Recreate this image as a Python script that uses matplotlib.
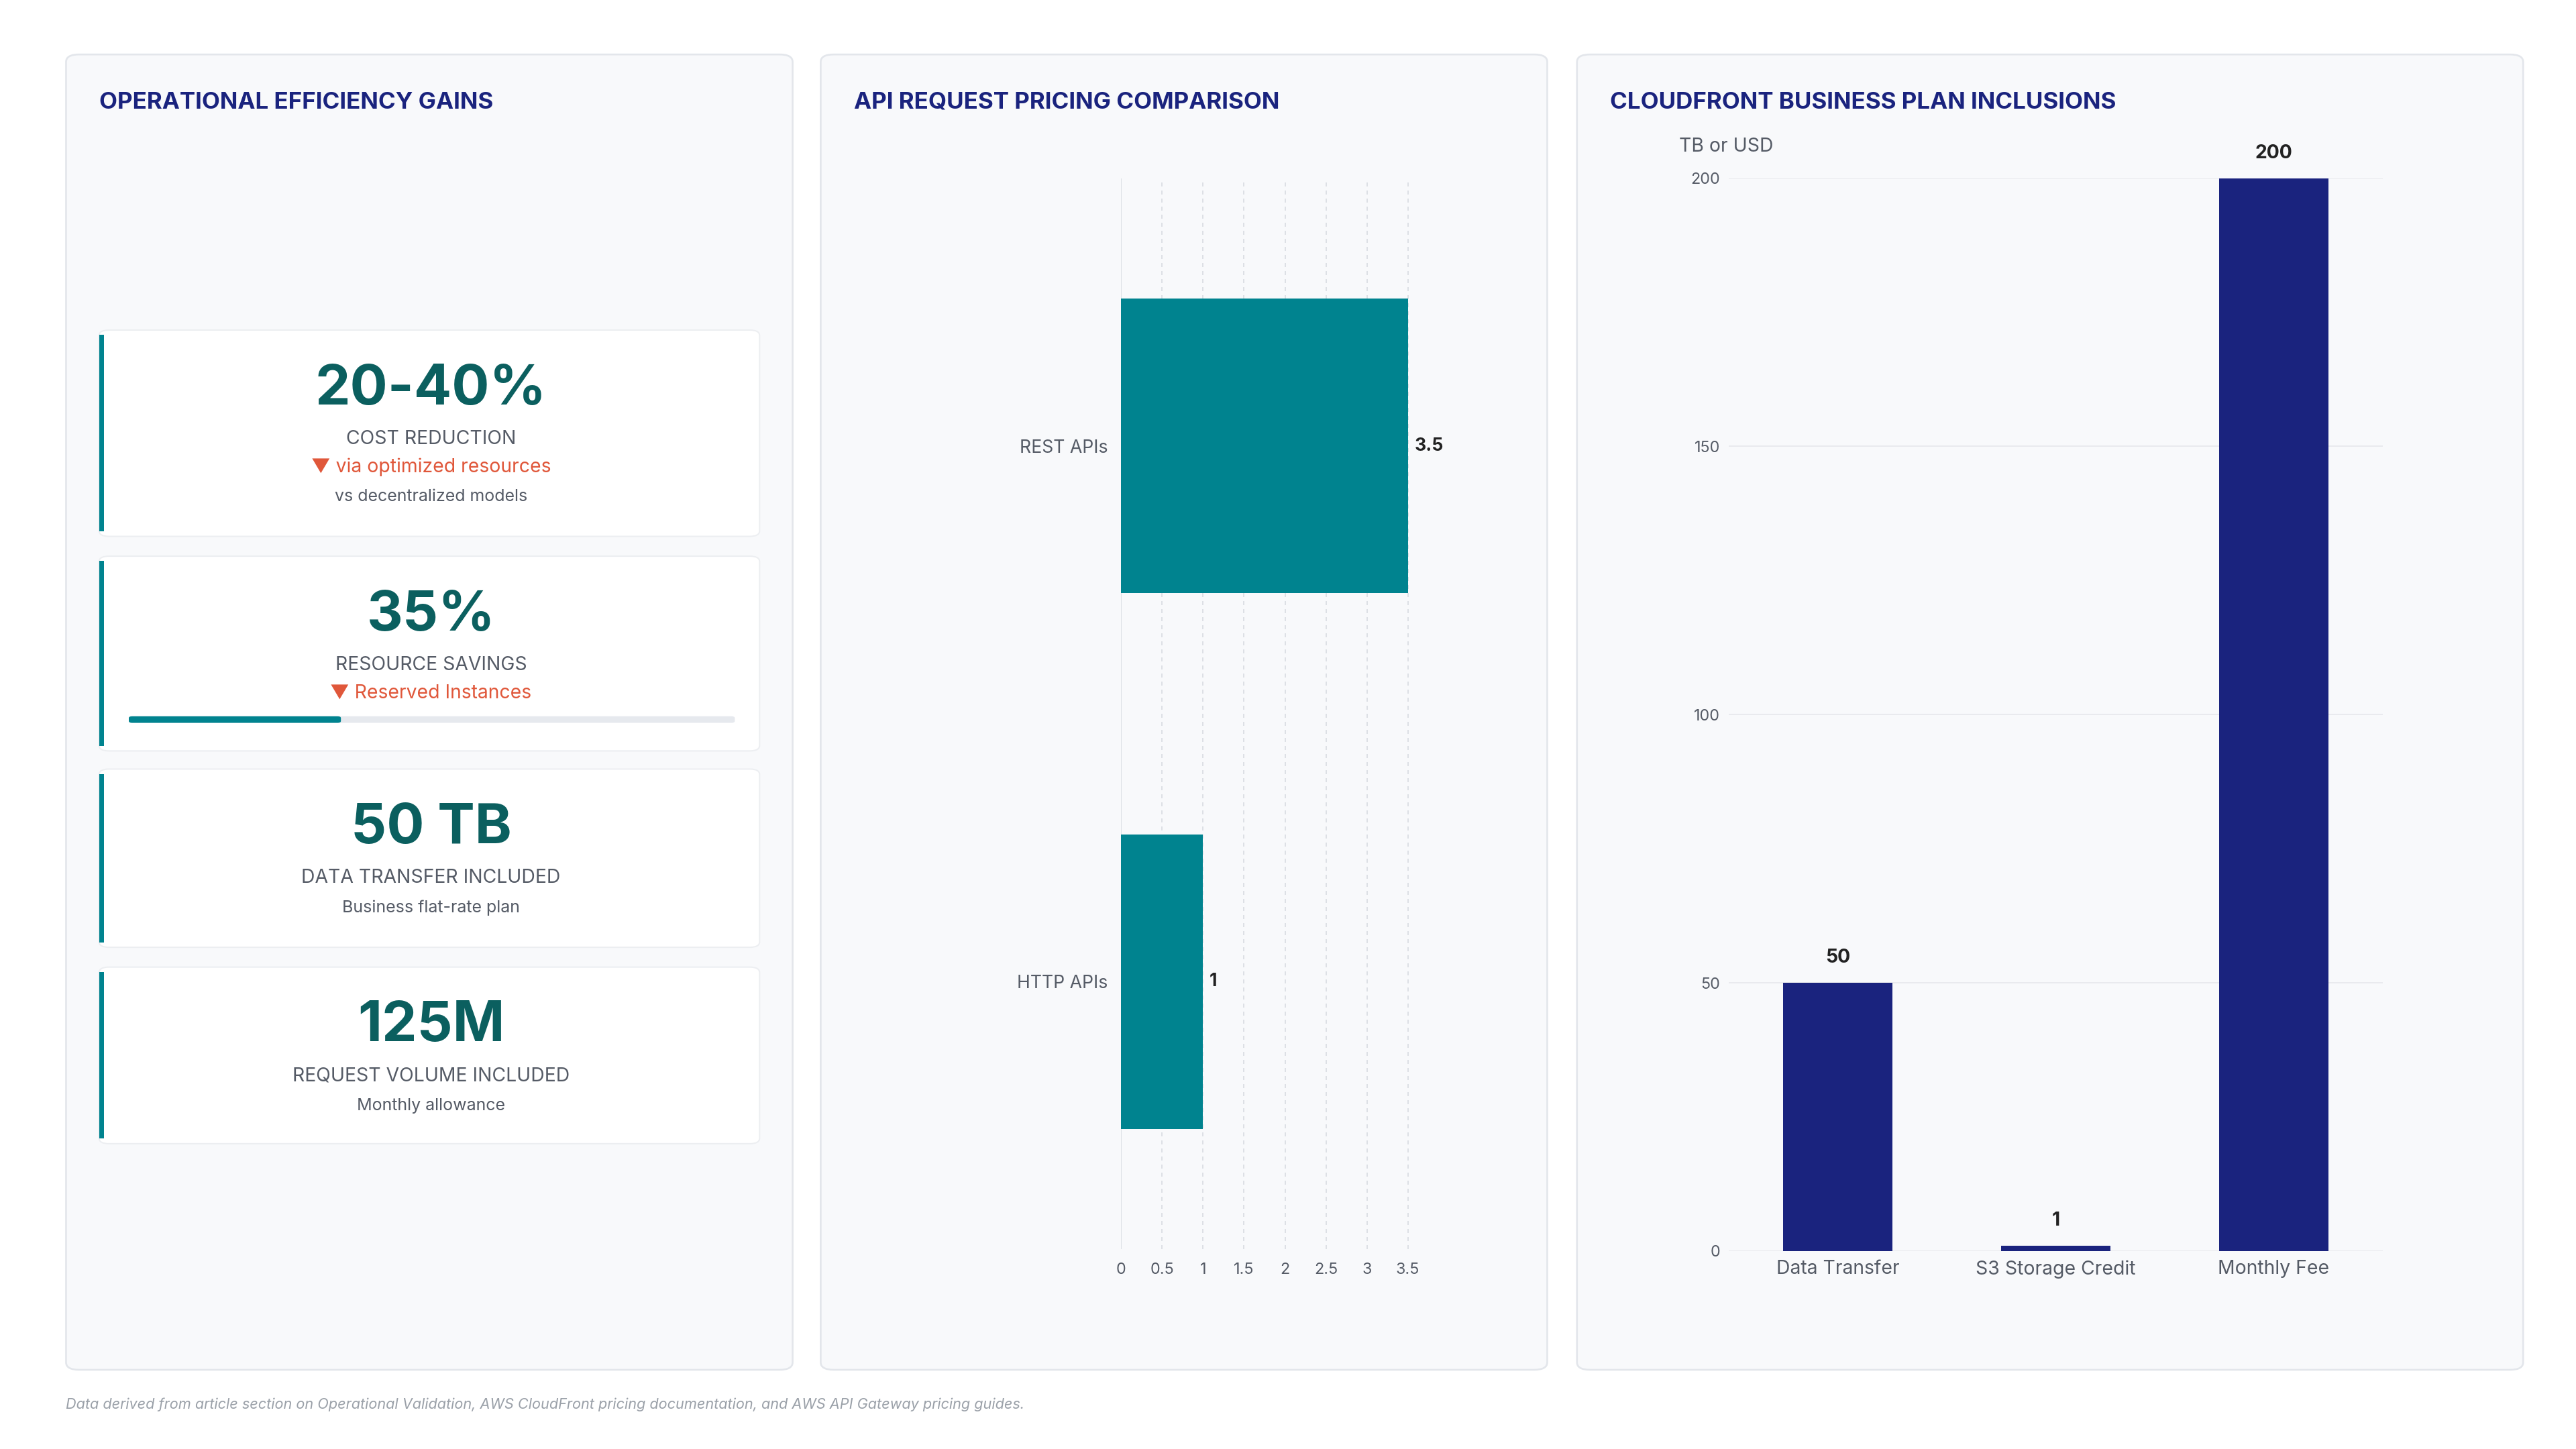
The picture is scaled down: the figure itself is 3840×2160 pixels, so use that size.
import matplotlib
matplotlib.use("Agg")
import matplotlib.pyplot as plt
from matplotlib.patches import FancyBboxPatch, Rectangle

plt.rcParams['font.family'] = ['Inter', 'DejaVu Sans']

api_categories = ["REST APIs", "HTTP APIs"]
api_values = [3.5, 1]
api_ticks = [0, 0.5, 1, 1.5, 2, 2.5, 3, 3.5]
api_ticklabels = ["0", "0.5", "1", "1.5", "2", "2.5", "3", "3.5"]

cf_categories = ["Data Transfer", "S3 Storage Credit", "Monthly Fee"]
cf_values = [50, 1, 200]
cf_ticks = [0, 50, 100, 150, 200]

kpi_values = ["20-40%", "35%", "50 TB", "125M"]
kpi_labels = ["COST REDUCTION", "RESOURCE SAVINGS", "DATA TRANSFER INCLUDED", "REQUEST VOLUME INCLUDED"]
kpi_notes = ["▼ via optimized resources", "▼ Reserved Instances", None, None]
kpi_subs = ["vs decentralized models", None, "Business flat-rate plan", "Monthly allowance"]
kpi_progress = [None, 0.35, None, None]

W, H = 1560.0, 878.0
fig = plt.figure(figsize=(16, 9), dpi=240)
fig.patch.set_facecolor("white")

def fx(x): return x / W
def fy(y): return 1 - y / H

NAVY = "#1a237e"
TEAL = "#00838f"
DTEAL = "#0b5f5f"
GRAY = "#555b66"
RED = "#e0573a"

def rbox(x0, y0, x1, y1, fc, ec, lw=1.0, r=8, z=0):
    p = FancyBboxPatch((fx(x0), fy(y1)), fx(x1 - x0), fy(y0) - fy(y1),
                       boxstyle=f"round,pad=0,rounding_size={r / W}",
                       transform=fig.transFigure, fc=fc, ec=ec, lw=lw, zorder=z)
    fig.add_artist(p)

# panels
for (x0, x1, t) in [(40, 480, "OPERATIONAL EFFICIENCY GAINS"),
                    (497, 937, "API REQUEST PRICING COMPARISON"),
                    (955, 1528, "CLOUDFRONT BUSINESS PLAN INCLUSIONS")]:
    rbox(x0, 33, x1, 830, "#f8f9fb", "#e3e6eb", lw=0.8, r=8)
    fig.text(fx(x0 + 20), fy(62), t, fontsize=10.5, fontweight="bold", color=NAVY, va="center")

# KPI cards
cards = [(200, 325), (337, 455), (466, 574), (586, 693)]
for i, (y0, y1) in enumerate(cards):
    rbox(60, y0, 460, y1, "white", "#eceef1", lw=0.6, r=6, z=1)
    fig.add_artist(Rectangle((fx(60), fy(y1 - 3)), fx(3), fy(y0 + 3) - fy(y1 - 3),
                             transform=fig.transFigure, fc=TEAL, ec="none", zorder=2))
    cx = fx(261)
    yy = y0 + 36
    fig.text(cx, fy(yy), kpi_values[i], fontsize=25, fontweight="bold", color=DTEAL, ha="center", va="center", zorder=3)
    yy += 30
    fig.text(cx, fy(yy), kpi_labels[i], fontsize=8.5, color=GRAY, ha="center", va="center", zorder=3)
    if kpi_notes[i]:
        yy += 17
        fig.text(cx, fy(yy), kpi_notes[i], fontsize=8.5, color=RED, ha="center", va="center",
                 family=['Inter', 'DejaVu Sans'], zorder=3)
    if kpi_progress[i] is not None:
        yy += 16
        fig.add_artist(FancyBboxPatch((fx(78), fy(yy + 2)), fx(445 - 78), fy(yy - 2) - fy(yy + 2),
                       boxstyle=f"round,pad=0,rounding_size={2 / W}", transform=fig.transFigure,
                       fc="#e6e9ee", ec="none", zorder=3))
        fig.add_artist(FancyBboxPatch((fx(78), fy(yy + 2)), fx((445 - 78) * kpi_progress[i]), fy(yy - 2) - fy(yy + 2),
                       boxstyle=f"round,pad=0,rounding_size={2 / W}", transform=fig.transFigure,
                       fc=TEAL, ec="none", zorder=4))
    if kpi_subs[i]:
        yy += 18
        fig.text(cx, fy(yy), kpi_subs[i], fontsize=7.5, color=GRAY, ha="center", va="center", zorder=3)

# API bar chart
ax1 = fig.add_axes([fx(679), fy(757), fx(860 - 679), fy(108) - fy(757)])
ax1.set_facecolor("none")
ypos = list(range(len(api_categories)))
ax1.barh(ypos, api_values, height=0.55, color=TEAL, zorder=2)
ax1.set_ylim(1.5, -0.5)
ax1.set_xlim(0, 3.65)
ax1.set_yticks(ypos)
ax1.set_yticklabels(api_categories, fontsize=8, color=GRAY)
ax1.set_xticks(api_ticks)
ax1.set_xticklabels(api_ticklabels, fontsize=7, color=GRAY)
for v, y in zip(api_values, ypos):
    ax1.text(v + 0.08, y, f"{v:g}", va="center", ha="left", fontsize=8, fontweight="bold", color="#222")
ax1.grid(axis="x", color="#dde0e5", linestyle=(0, (3, 3)), lw=0.6, zorder=0)
for s in ax1.spines.values():
    s.set_visible(False)
ax1.axvline(0, color="#dde0e5", lw=0.6, zorder=1)
ax1.tick_params(length=0, pad=6)

# CloudFront bar chart
ax2 = fig.add_axes([fx(1047), fy(758), fx(1443 - 1047), fy(108) - fy(758)])
ax2.set_facecolor("none")
xpos = list(range(len(cf_categories)))
ax2.bar(xpos, cf_values, width=0.5, color=NAVY, zorder=2)
ax2.set_xlim(-0.5, 2.5)
ax2.set_ylim(0, 200)
ax2.set_xticks(xpos)
ax2.set_xticklabels(cf_categories, fontsize=8.5, color=GRAY)
ax2.set_yticks(cf_ticks)
ax2.set_yticklabels([str(t) for t in cf_ticks], fontsize=7, color=GRAY)
for x, v in zip(xpos, cf_values):
    ax2.text(x, v + 3, f"{v:g}", ha="center", va="bottom", fontsize=8.5, fontweight="bold", color="#222")
ax2.grid(axis="y", color="#e6e8ec", lw=0.5, zorder=0)
for s in ax2.spines.values():
    s.set_visible(False)
ax2.tick_params(length=0, pad=4)
fig.text(fx(1017), fy(89), "TB or USD", fontsize=8.5, color=GRAY, va="center")

fig.text(fx(40), fy(851), "Data derived from article section on Operational Validation, AWS CloudFront pricing documentation, and AWS API Gateway pricing guides.",
         fontsize=6.5, style="italic", color="#9aa0a8", va="center")

fig.savefig("out.png", dpi=240, facecolor="white")
